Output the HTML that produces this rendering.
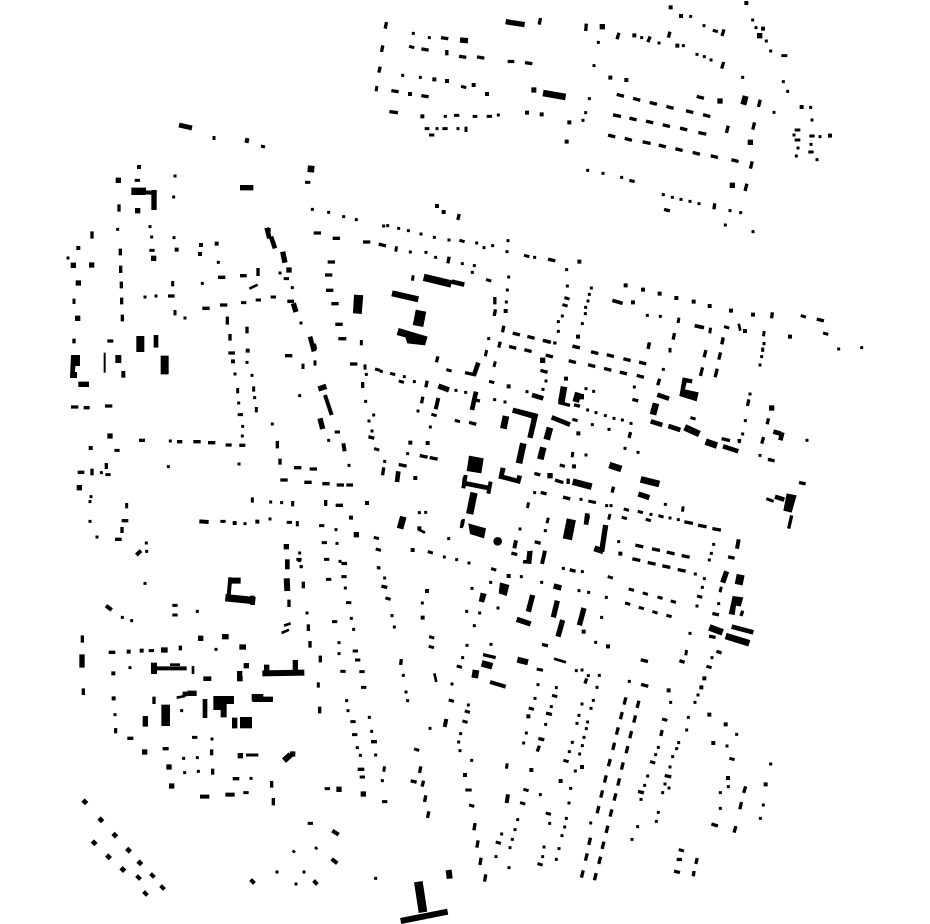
<!DOCTYPE html>
<html><head><meta charset="utf-8"><style>
html,body{margin:0;padding:0;background:#fff}
svg{display:block}
path{fill:none;stroke:#000;stroke-linecap:square}
.a{stroke-width:9}.b{stroke-width:12}.c{stroke-width:16}
.b[transform]{stroke-width:10}
.k{stroke-linecap:butt}
polygon{fill:#000;stroke:none}
</style></head><body>
<svg width="930" height="924" viewBox="0 0 930 924" xmlns="http://www.w3.org/2000/svg">

<!-- top middle -->
<g transform="translate(365 0) scale(.33333)">
<path class="a" d="M145 100h0M193 113h0M113 226h0M166 232h0M241 349h0M400 345h0M216 386h0M279 386h0M530 343h0"/>
<path class="b" d="M208 238h0M246 243h0M326 255h0M366 282h0M135 282h0M172 349h0M486 338h0M530 343h0M613 367h0M605 425h0"/>
<path class="a" transform="translate(-3.5 -1)" d="M140 141l7 2M296 261l7 2M275 347l7 0M331 350l5 0M373 350l7 0M187 387l5 0M240 387l7 0M200 406l7 0"/>
<path class="a" transform="translate(1 -3.5)" d="M34 266l-1 7M302 388l0 7"/>
<path class="b" transform="translate(-6 -1.5)" d="M239 115l12 2M180 149l12 2M293 171l12 2M347 173l12 2M439 186l10 0M491 190l12 2M90 274l12 2M180 289l12 2M84 337l16 2"/>
<path class="b" transform="translate(1.5 -6)" d="M62 77l-2 10M51 147l-2 10M244 161l0 6M43 211l-2 8M524 65l-2 10"/>
<path class="k" stroke-width="14" d="M297 119l0 2"/>
<path class="k" stroke-width="16" d="M285 120l24 2M422 65l57 9M499 270h15"/>
<path class="k" stroke-width="20" d="M534 279l68 12"/>
</g>

<!-- top right -->
<g transform="translate(575 0) scale(.33333)">
<path class="a" d="M347 49h0M387 77h0M533 60h0M543 83h0M574 123h0M587 153h0M200 113h0M252 129h0M70 127h0M325 137h0M366 163h0M388 170h0M408 180h0M503 232h0M625 245h0M638 274h0M57 197h0M43 296h0M32 338h0M24 361h0M597 337h0M38 511h0M84 520h0M140 532h0M171 543h0M265 584h0M292 592h0M318 598h0M345 604h0M372 611h0M465 632h0M497 638h0M451 675h0M534 695h0M707 322h0M711 360h0M657 405h0M669 444h0M664 468h0M735 410h0M708 433h0M726 479h0"/>
<path class="b" d="M287 22h0M514 9h0M318 48h0M564 86h0M178 106h0M307 137h0M106 233h0M154 240h0M680 321h0M765 407h0"/>
<path class="c" d="M82 80h0M554 107h0M435 303h0M526 427h0M472 556h0"/>
<path class="a" transform="translate(-3.5 -1)" d="M421 93l7 2M627 168l9 0M667 391l8 0M667 421l8 0M711 409l7 0M708 457l7 0M171 543l7 2"/>
<path class="b" transform="translate(-6 -1.5)" d="M136 286l12 3M185 298l12 3M235 310l12 3M285 322l12 3M344 335l12 3M395 347l12 3M376 292l12 3M125 347l14 3M174 357l12 3M224 366l12 3M274 377l12 3M326 387l12 3M381 400l14 3M110 408l12 3M160 418l12 3M214 428l14 3M262 438l12 3M312 449l12 3M364 460l12 3M418 470l12 3M480 482l12 3M278 631l8 2"/>
<path class="b" transform="translate(1.5 -6)" d="M444 99l-3 10M32 82l-1 12M129 109l-3 10M222 120l-3 8M282 106l-2 8M443 197l-3 10M553 310l-3 12M457 388l-3 12M536 378l-3 12M529 495l-3 12M417 621l-1 8M513 562l-3 12"/>
<path class="k" stroke-width="18" d="M512 288l-7 26"/>
</g>

<!-- central top -->
<g transform="translate(300 195) scale(.33333)">
<path class="a" d="M251 93h0M263 92h0M296 100h0M325 107h0M363 117h0M403 127h0M447 135h0M530 144h0M552 158h0M578 152h0M624 137h0M621 170h0M704 187h0M331 171h0M378 172h0M407 187h0M487 206h0M523 212h0M517 232h0M626 246h0M622 285h0M619 321h0M775 380h0M775 409h0M764 444h0M566 431h0M599 447h0"/>
<path class="b" d="M411 33h0M431 51h0M617 348h0"/>
<path class="a" transform="translate(-3.5 -1)" d="M486 138l7 2M680 183l7 2M566 256l7 2"/>
<path class="a" transform="translate(1 -3.5)" d="M288 162l-1 7M338 249l-1 7"/>
<path class="b" transform="translate(-6 -1.5)" d="M247 150l12 3M755 195l12 3M649 417l12 3M693 427l12 3M739 439l12 3"/>
<path class="b" transform="translate(1.5 -6)" d="M475 68l-2 8M445 196l-2 10M583 317l0 12M584 354l-2 10M609 403l-2 10"/>
<path class="k" stroke-width="22" d="M371 247l83 20"/>
<path class="k" stroke-width="14" d="M455 260l38 9"/>
<path class="k" stroke-width="18" d="M276 295l79 18"/>
<path class="k" stroke-width="26" d="M175 300l-3 54"/>
<path class="k" stroke-width="32" d="M363 347l-9 46"/>
<polygon points="296,399 383,425 375,451 322,445 316,427 290,420"/>
</g>

<!-- central right band -->
<g transform="translate(560 250) scale(.33333)">
<path class="a" d="M20 59h0M22 108h0M7 198h0M94 114h0M88 133h0M84 153h0M77 172h0M76 191h0M67 221h0M262 196h0M301 199h0M836 297h0M905 293h0M612 281h0M330 298h0M608 297h0"/>
<path class="b" d="M58 35h0M54 260h0M197 106h0M249 119h0M299 131h0M349 144h0M401 155h0M449 168h0M513 182h0M579 194h0M219 157h0M555 243h0M690 260h0"/>
<path class="a" transform="translate(-3.5 -1)" d="M21 145l7 2M15 166l7 2M730 199l7 2M500 232l7 2M797 251l7 2"/>
<path class="a" transform="translate(1 -3.5)" d="M355 211l-1 7M450 241l-1 8M611 251l-1 7"/>
<path class="b" transform="translate(-6 -1.5)" d="M48 291l8 2M781 210l12 3"/>
<path class="b" transform="translate(1.5 -6)" d="M635 198l-1 8M341 260l-2 10M487 273l-2 10M265 290l-1 8"/>
<path class="k" stroke-width="11" d="M157 151l31 9M404 227l28 6"/>
<path class="k" stroke-width="8" d="M536 221l5 21"/>
</g>

<!-- centre -->
<g transform="translate(460 340) scale(.33333)">
<path class="a" d="M285 9h0M630 33h0M912 11h0M908 31h0M905 50h0M900 75h0M610 88h0M258 123h0M249 148h0M523 141h0M17 157h0M104 179h0M135 186h0M201 155h0M378 146h0M401 154h0M383 210h0M408 218h0M436 227h0M462 235h0M487 240h0M513 250h0M838 305h0M848 282h0M856 242h0M870 162h0M397 254h0M447 268h0M495 325h0M534 337h0M378 345h0M616 493h0M363 478h0M224 458h0M440 497h0M453 497h0M573 523h0M630 534h0M655 539h0M256 572h0M180 567h0M476 605h0M706 702h0M733 716h0M727 742h0M711 798h0M761 613h0M754 640h0M748 660h0M776 791h0M439 772h0M425 832h0M357 752h0M386 757h0M310 685h0M367 695h0M184 710h0M27 669h0M245 727h0M92 727h0M36 745h0M114 804h0M20 814h0M59 819h0M43 857h0M21 916h0M93 913h0M407 907h0M690 880h0M900 346h0M928 358h0"/>
<path class="b" d="M146 139h0M318 116h0M355 280h0M342 379h0M146 708h0M371 875h0M444 919h0M481 641h0"/>
<path class="a" transform="translate(-3.5 -1)" d="M95 126l7 2M699 235l7 2M345 240l7 2M307 377l7 2M499 509l7 2M541 516l7 2M603 529l7 2M493 534l7 2M565 540l7 2M719 770l7 2M514 749l7 2M556 761l7 2M600 773l7 2M640 785l7 2M503 791l7 2M544 804l7 2M585 817l7 2M627 828l7 2M451 712l7 2M101 688l7 2M393 485l14 3"/>
<path class="a" transform="translate(1 -3.5)" d="M78 38l-2 10M104 72l-2 8M337 344l-1 7M204 495l-2 8M668 507l-1 7M448 530l-2 8M263 541l-2 8M782 748l-2 8M838 305l-2 0"/>
<path class="b" transform="translate(-6 -1.5)" d="M158 22l12 3M204 32l12 3M262 4l12 3M349 21l12 3M404 38l12 3M451 47l12 3M501 59l12 3M548 69l12 3M268 48l12 3M337 65l12 3M395 77l12 3M443 88l12 3M490 99l12 3M541 109l12 3M252 94l12 3M528 181l8 2M353 197l8 2M38 250l12 3M234 403l8 2M320 474l12 3M253 460l8 2M235 608l8 2M165 642l8 2M537 618l14 3M587 629l14 3M631 639l14 3M676 649l14 3M528 659l14 3M574 670l14 3M618 680l14 3M664 691l14 3M815 653l10 2M768 823l10 2M340 692l8 2M684 548l16 3M725 558l16 3M768 568l16 3M758 891l10 2M257 916l8 2"/>
<path class="b" transform="translate(1.5 -6)" d="M118 16l-2 8M566 18l-2 8M787 6l-2 8M735 41l-3 12M779 48l-3 12M596 127l-3 10M725 93l-4 16M769 97l-4 16M509 287l-2 8M458 451l-2 8M383 537l-4 18M923 246l-2 8M908 302l-3 10M323 427l0 6M845 823l-2 6M864 189l-2 10"/>
<path class="c" d="M248 61h0M364 170h0M270 407h0"/>
<path class="k" stroke-width="14" d="M55 68l-13 37M216 165l34 10M592 164l35 12M572 244l35 11M625 258l36 12M275 232l55 22M789 319l46 15M815 860l65 17M48 155l-12 55M382 520l-4 34"/>
<path class="k" stroke-width="10" d="M15 98l33 7M45 180l15 3M295 187l35 9M785 296l25 6M285 420l25 8M8 540l-4 24"/>
<path class="k" stroke-width="20" d="M312 140l-8 46M355 158l-8 28M138 228l-8 38M588 190l-9 34M674 262l44 20M737 305l34 12M338 425l57 15M542 418l56 14M270 263l-10 36M190 310l-13 60M250 322l-9 36M448 375l36 12M797 888l71 22M748 862l40 15"/>
<path class="k" stroke-width="16" d="M535 462l33 11M218 765l-13 50M292 782l-12 50M372 804l-14 52M308 840l-14 50M800 694l-12 34M170 838l42 14M437 555l-12 80"/>
<path class="k" stroke-width="18" d="M403 625l27 9"/>
<path class="k" stroke-width="22" d="M42 458l-13 64"/>
<path class="k" stroke-width="14" d="M15 430l75 15"/>
<path class="k" stroke-width="12" d="M17 405l-7 40M92 425l-7 36M208 633l-4 36M255 632l-9 40M168 601l-5 24M836 598l-5 28"/>
<path class="k" stroke-width="28" d="M334 538l-12 60"/>
<path class="k" stroke-width="24" d="M842 704l-6 30"/>
<polygon points="27,347 71,355 64,400 20,393"/>
<polygon points="668,112 698,118 695,130 680,128 675,148 716,157 710,184 658,168"/>
<polygon points="160,203 235,222 218,295 202,292 215,235 156,218"/>
<polygon points="122,382 137,385 132,405 170,415 172,405 186,408 180,432 115,415"/>
<polygon points="25,550 78,565 72,595 30,582"/>
<polygon points="818,768 850,772 842,800 828,797 824,825 806,822"/>
<polygon points="190,660 208,660 212,632 218,632 214,672 188,670"/>
<polygon points="120,727 148,735 140,768 116,760"/>
<polygon points="62,758 80,762 72,788 56,784"/>
<polygon points="283,730 306,736 302,752 279,746"/>
<circle cx="113" cy="604" r="13" fill="#000"/>
</g>

<!-- left upper -->
<g transform="translate(60 160) scale(.33333)">
<path class="a" d="M345 48h0M341 111h0M757 148h0M806 157h0M851 170h0M889 179h0M270 200h0M173 208h0M275 231h0M342 233h0M24 294h0M475 307h0M660 339h0M427 370h0M697 383h0M255 411h0M288 408h0M375 474h0M723 489h0M561 607h0M919 643h0M525 642h0M576 646h0M719 707h0M917 724h0M536 729h0M584 713h0M637 792h0M927 783h0M806 841h0M548 799h0M547 828h0M331 843h0M867 916h0M325 920h0M537 912h0"/>
<path class="b" d="M237 21h0M350 269h0M423 255h0M470 251h0M420 282h0M519 604h0M563 572h0M92 864h0M55 264h0"/>
<path class="c" d="M175 61h0M281 295h0M40 316h0M95 315h0M687 330h0M55 369h0M53 475h0M233 152h0M150 828h0"/>
<path class="a" transform="translate(-3.5 0)" d="M232 61h7M743 67h7M276 271h7M679 356h7M640 411h7M595 420h7M551 428h7M541 764h7M832 816h7M171 871h7"/>
<path class="a" transform="translate(0 -3.5)" d="M338 371v7M42 424v7M345 458v7M904 548v7M729 619v7M765 609v7M915 621v7M533 692v7M581 687v7M589 749v7"/>
<path class="b" transform="translate(-6 0)" d="M772 219h12M829 235h12M920 246h12M814 306h12M485 352h12M551 347h10M806 345h12M809 391h12M335 408h10M491 435h12M438 445h12M693 424h10M825 431h12M837 493h12M846 536h14M516 579h10M686 587h12M153 543h8M881 612h12M44 741h12M82 743h8M146 738h12M248 841h8M362 845h6M411 845h12M455 848h12M508 855h8M549 856h8M713 923h12M760 927h12"/>
<path class="b" transform="translate(0 -6)" d="M177 144v12M96 225v12M181 277v10M182 328v12M184 376v10M185 424v10M187 475v10M502 481v14M561 511v10M510 533v10M908 677v8M42 547v4M594 335v14M652 854v12M660 907v8M139 920v8"/>
<path class="k" stroke-width="16" d="M540 83h40M668 275l7 33M55 673h32M780 775l8 32M775 687l24 -8M282 90v60M700 430l8 26"/>
<path class="k" stroke-width="22" d="M214 94h44M618 215l14 0"/>
<path class="k" stroke-width="12" d="M258 97l32 2M795 705l20 60M850 850l4 24"/>
<path class="k" stroke-width="20" d="M743 26l20 2"/>
<path class="k" stroke-width="14" d="M620 203l8 32M633 230l12 35M288 525v38M750 530l12 44"/>
<path class="k" stroke-width="8" d="M568 386l25 -12M37 620v30"/>
<path class="k" stroke-width="24" d="M241 528v48M314 587v56"/>
<path class="k" stroke-width="26" d="M897 405l-5 56"/>
<path class="k" stroke-width="6" d="M134 578v60"/>
<path class="k" stroke-width="18" d="M175 585v24M759 552l4 18"/>
<path class="k" stroke-width="12" d="M190 633v20"/>
<polygon points="33,585 60,585 60,618 46,618 45,636 51,636 51,654 30,654"/>
</g>

<!-- left middle -->
<g transform="translate(60 430) scale(.33333)">
<path class="a" d="M124 128h0M93 200h0M90 215h0M632 216h0M665 218h0M90 274h0M111 321h0M555 281h0M630 267h0M828 299h0M831 340h0M719 369h0M840 394h0M724 410h0M259 339h0M260 364h0"/>
<path class="b" d="M524 279h0M592 275h0M921 219h0M873 263h0"/>
<path class="c" d="M58 173h0M889 314h0M679 350h0"/>
<path class="a" transform="translate(-3.5 0)" d="M144 134h7M489 274h7M688 277h7M785 287h7M793 338h7M717 388h7M800 388h7M853 401h7"/>
<path class="a" transform="translate(0 -3.5)" d="M200 227v7M577 210v7M698 221v7M712 281v7"/>
<path class="b" transform="translate(-6 0)" d="M64 127h10M838 226h12M176 328h10M672 150h12M744 157h12M798 161h12M841 165h12M870 165h10M196 272h10"/>
<path class="b" transform="translate(0 -6)" d="M96 127v10M797 221v8M186 302v8"/>
<path class="k" stroke-width="12" d="M418 274l28 2M229 375l14 -13"/>
<path class="k" stroke-width="14" d="M682 388v30"/>
</g>

<!-- left lower -->
<g transform="translate(70 560) scale(.33333)">
<path class="a" d="M688 2h0M693 20h0M925 23h0M225 70h0M826 84h0M382 154h0M157 172h0M185 182h0M711 159h0M844 175h0M851 208h0M807 248h0M807 281h0M438 268h0M180 323h0M830 422h0M834 452h0M335 452h0M898 472h0M905 514h0M426 537h0M862 563h0M871 586h0M917 585h0M341 595h0M382 593h0M344 638h0M385 634h0M543 655h0M135 464h0M137 512h0"/>
<path class="b" d="M176 275h0M215 272h0M130 340h0M131 415h0M344 402h0"/>
<path class="c" d="M392 235h0M529 317h0M224 576h0M297 621h0M305 678h0M807 688h0M880 702h0M511 587h0M668 582h0"/>
<path class="a" transform="translate(-3.5 0)" d="M822 10h7M776 58h7M822 50h7M836 128h7M315 136h7M315 165h7M794 185h7M856 273h7M863 300h7M244 272h7M819 334h7M876 335h7M881 382h7M849 485h7M854 524h7M374 532h7M772 686h7M877 651h7M528 698h7M721 790h7"/>
<path class="a" transform="translate(0 -3.5)" d="M745 375v7M137 512v7"/>
<path class="b" transform="translate(-6 0)" d="M127 277h10M914 545h8M874 628h10M183 535h8M289 566h8M499 656h10"/>
<path class="b" transform="translate(0 -6)" d="M652 13v12M700 76v10M657 130v12M715 204v10M720 254v10M751 298v10M749 451v10M37 237v12M40 396v10M331 268v4M425 579v8M428 637v8M605 674v10M610 725v12M252 421v12"/>
<path class="c" transform="translate(-8 0)" d="M289 270h4M472 230h4M524 261h4"/>
<path class="k" stroke-width="12" d="M481 52l-6 66M255 325h95M390 710h28M466 704h28M108 137l17 13M787 812l19 12"/>
<path class="k" stroke-width="18" d="M480 62h32M252 308v34M577 340l126 -2M650 55l2 38"/>
<path class="k" stroke-width="22" d="M466 113l90 9"/>
<path class="k" stroke-width="14" d="M547 107l1 28M405 417v57M400 356h24M345 395v14"/>
<path class="k" stroke-width="16" d="M36 283v40M590 314v22M676 300v30M380 400h-28M226 468v32M494 473v32M502 356h16M509 333v30M547 418h62"/>
<path class="k" stroke-width="8" d="M369 318v24M642 197l20 -7M635 219l22 -10M320 413l25 -5"/>
<path class="k" stroke-width="9" d="M528 585h37"/>
<path class="k" stroke-width="26" d="M287 434v64"/>
<path class="k" stroke-width="34" d="M510 488h36"/>
<path class="k" stroke-width="20" d="M545 412h35"/>
<path class="k" stroke-width="18" d="M642 602l20 -18"/>
<path class="k" stroke-width="8" d="M300 314h30"/>
<polygon points="430,408 492,408 492,432 470,432 470,472 452,472 452,450 430,450"/>
<path class="k" stroke-width="12" d="M785 897l17 13"/>
<path stroke-width="14" d="M44 725l1 1M92 779l1 1M134 825l1 1M72 848l1 1M115 890l1 1M175 870l1 1M209 908l1 1M158 928l1 1"/>
<path stroke-width="8" d="M671 874l1 1M738 864l1 1"/>
</g>

<!-- centre column -->
<g transform="translate(310 340) scale(.33333)">
<path class="a" d="M214 94h0M283 110h0M313 125h0M438 151h0M191 225h0M186 273h0M324 213h0M361 261h0M293 341h0M224 364h0M328 518h0M347 517h0M416 596h0M403 651h0M440 659h0M207 684h0M224 714h0M246 827h0M253 861h0M337 789h0"/>
<path class="b" d="M301 308h0M353 309h0M351 753h0M338 833h0M308 630h0M316 414h0"/>
<path class="a" transform="translate(-3.5 -1)" d="M417 91l7 2M203 89l7 2M248 102l7 2M274 125l7 2M372 225l7 2M442 243l7 2M200 328l7 2M199 594l7 2M205 629l7 2M361 637l7 2M234 776l7 2M365 892l7 2M364 921l7 2"/>
<path class="b" transform="translate(-6 -1.5)" d="M186 293l8 2M340 349l14 3M370 355l14 3M225 741l8 2M277 376l14 3"/>
<path class="b" transform="translate(1.5 -6)" d="M381 60l-2 8M349 133l-2 10M336 181l-2 10M219 393l-2 14"/>
<path class="k" stroke-width="16" d="M385 138l32 12"/>
<path class="k" stroke-width="12" d="M385 174l-8 34"/>
<path class="k" stroke-width="14" d="M265 394l-4 32"/>
<path class="k" stroke-width="20" d="M280 530l-10 36"/>
<path class="k" stroke-width="8" d="M325 568l20 10"/>
<path class="b" d="M328 565h0"/>
<path class="a" transform="translate(1 -3.5)" d="M459 545l-2 12M461 420l-2 20"/>
</g>

<!-- bottom centre -->
<g transform="translate(370 640) scale(.33333)">
<path class="a" d="M278 53h0M100 106h0M619 92h0M636 90h0M655 107h0M688 106h0M681 142h0M778 124h0M246 132h0M504 134h0M559 143h0M108 156h0M113 182h0M495 175h0M295 195h0M544 200h0M636 192h0M670 181h0M663 205h0M627 226h0M527 253h0M621 250h0M653 246h0M649 266h0M180 265h0M272 281h0M469 279h0M642 292h0M266 306h0M461 309h0M607 307h0M637 317h0M270 332h0M598 335h0M629 342h0M305 361h0M616 393h0M602 445h0M37 422h0M511 464h0M597 489h0M539 550h0M662 549h0M443 539h0M589 535h0M584 561h0M435 569h0M576 587h0M395 582h0M427 598h0M522 621h0M420 623h0M567 626h0M518 650h0M378 650h0M559 658h0M417 683h0M17 715h0M803 560h0M786 598h0"/>
<path class="b" d="M475 229h0M636 381h0M484 390h0M285 405h0M572 423h0"/>
<path class="a" transform="translate(-3.5 -1)" d="M268 80l7 2M508 89l10 2M244 182l7 2M554 168l7 2M292 215l7 2M484 206l7 2M285 245l7 2M140 329l7 2M588 363l7 2M294 451l10 0M468 450l7 2M458 490l7 2M305 497l7 2M535 521l7 2M385 608l7 2M510 673l7 2M44 486l7 0"/>
<path class="a" transform="translate(1 -3.5)" d="M410 378l-1 7M42 387l-1 7"/>
<path class="b" transform="translate(-6 -1.5)" d="M539 222l8 2M516 298l8 2M133 425l8 2"/>
<path class="b" transform="translate(1.5 -6)" d="M92 68l-1 8M647 126l-2 6M765 183l-3 12M804 193l-3 12M754 227l-3 12M794 237l-3 12M742 273l-3 12M782 284l-3 12M731 319l-3 12M771 329l-3 12M505 328l-3 8M718 368l-3 12M757 378l-3 12M150 390l-2 10M706 417l-3 12M746 426l-3 12M158 433l-2 8M695 462l-3 12M735 471l-3 12M165 477l-2 10M684 509l-3 12M723 519l-3 12M174 525l-2 10M313 560l-2 12M711 568l-3 12M659 604l-3 12M699 616l-3 12M322 612l-2 12M649 651l-3 12M689 661l-3 12M331 664l-2 12M637 702l-3 12M676 710l-3 12M345 714l-2 12"/>
<path class="k" stroke-width="10" d="M339 44l38 9"/>
<path class="k" stroke-width="20" d="M335 70l32 9M318 90l-4 24"/>
<path class="k" stroke-width="18" d="M442 59l32 8M236 690l3 26"/>
<path class="k" stroke-width="8" d="M552 56l36 11M193 100l6 26"/>
<path class="k" stroke-width="12" d="M360 126l47 14M229 237l-5 24M414 463l-4 26"/>
<path class="k" stroke-width="26" d="M145 725l14 92"/>
<path class="k" stroke-width="18" d="M92 843l141 -28"/>
</g>

<!-- bottom right -->
<g transform="translate(610 640) scale(.33333)">
<path class="a" d="M306 53h0M264 165h0M255 187h0M235 232h0M230 270h0M380 283h0M206 308h0M200 326h0M351 318h0M145 322h0M137 344h0M188 350h0M180 381h0M482 372h0M113 408h0M104 436h0M165 432h0M355 440h0M177 444h0M158 458h0M331 458h0M93 478h0M460 495h0M331 505h0M145 517h0M139 544h0M451 535h0M182 187h0"/>
<path class="b" d="M283 115h0M274 142h0M176 151h0M298 224h0M347 253h0M310 309h0M354 414h0M467 433h0"/>
<path class="a" transform="translate(-3.5 -1)" d="M297 81l7 2M164 239l7 2M128 367l7 2M366 357l7 2M214 631l7 2"/>
<path class="a" transform="translate(1 -3.5)" d="M228 38l-1 7"/>
<path class="b" transform="translate(-6 -1.5)" d="M103 62l12 3M219 65l6 2M330 37l6 2M104 136l12 3M175 409l10 2M95 457l8 2M315 555l10 3M211 660l6 0M203 696l8 2"/>
<path class="b" transform="translate(1.5 -6)" d="M154 281l-2 8M404 450l-3 10M392 497l-3 12M375 569l-3 10M259 665l-2 8M250 704l-1 6"/>
</g>

<!-- right -->
<g transform="translate(740 380) scale(.33333)">
<path class="a" d="M201 181h0"/>
<path class="c" d="M95 84h0"/>
<path class="b" transform="translate(-6 -1.5)" d="M95 241l10 2M188 310l10 2"/>
<path class="k" stroke-width="14" d="M100 155l22 6M127 157l-6 24M105 350l28 9"/>
<path class="k" stroke-width="9" d="M79 356l22 8"/>
<path class="k" stroke-width="10" d="M155 406l-9 40"/>
<polygon points="140,340 170,346 155,398 130,392"/>
</g>

<!-- extras in page coordinates -->
<path class="k" stroke-width="5" d="M179 125l13 3M245 140l4 1"/>
<path class="k" stroke-width="3" d="M214 136v4M261 146l4 1"/>
<path stroke-width="4" d="M138 877l1 1M145 893l1 1M152 875l1 1M162 887l1 1M252 881l1 1M315 882l1 1"/>
<path stroke-width="3" d="M277 872h0M296 884h0M304 872h0"/>
</svg>
</body></html>
